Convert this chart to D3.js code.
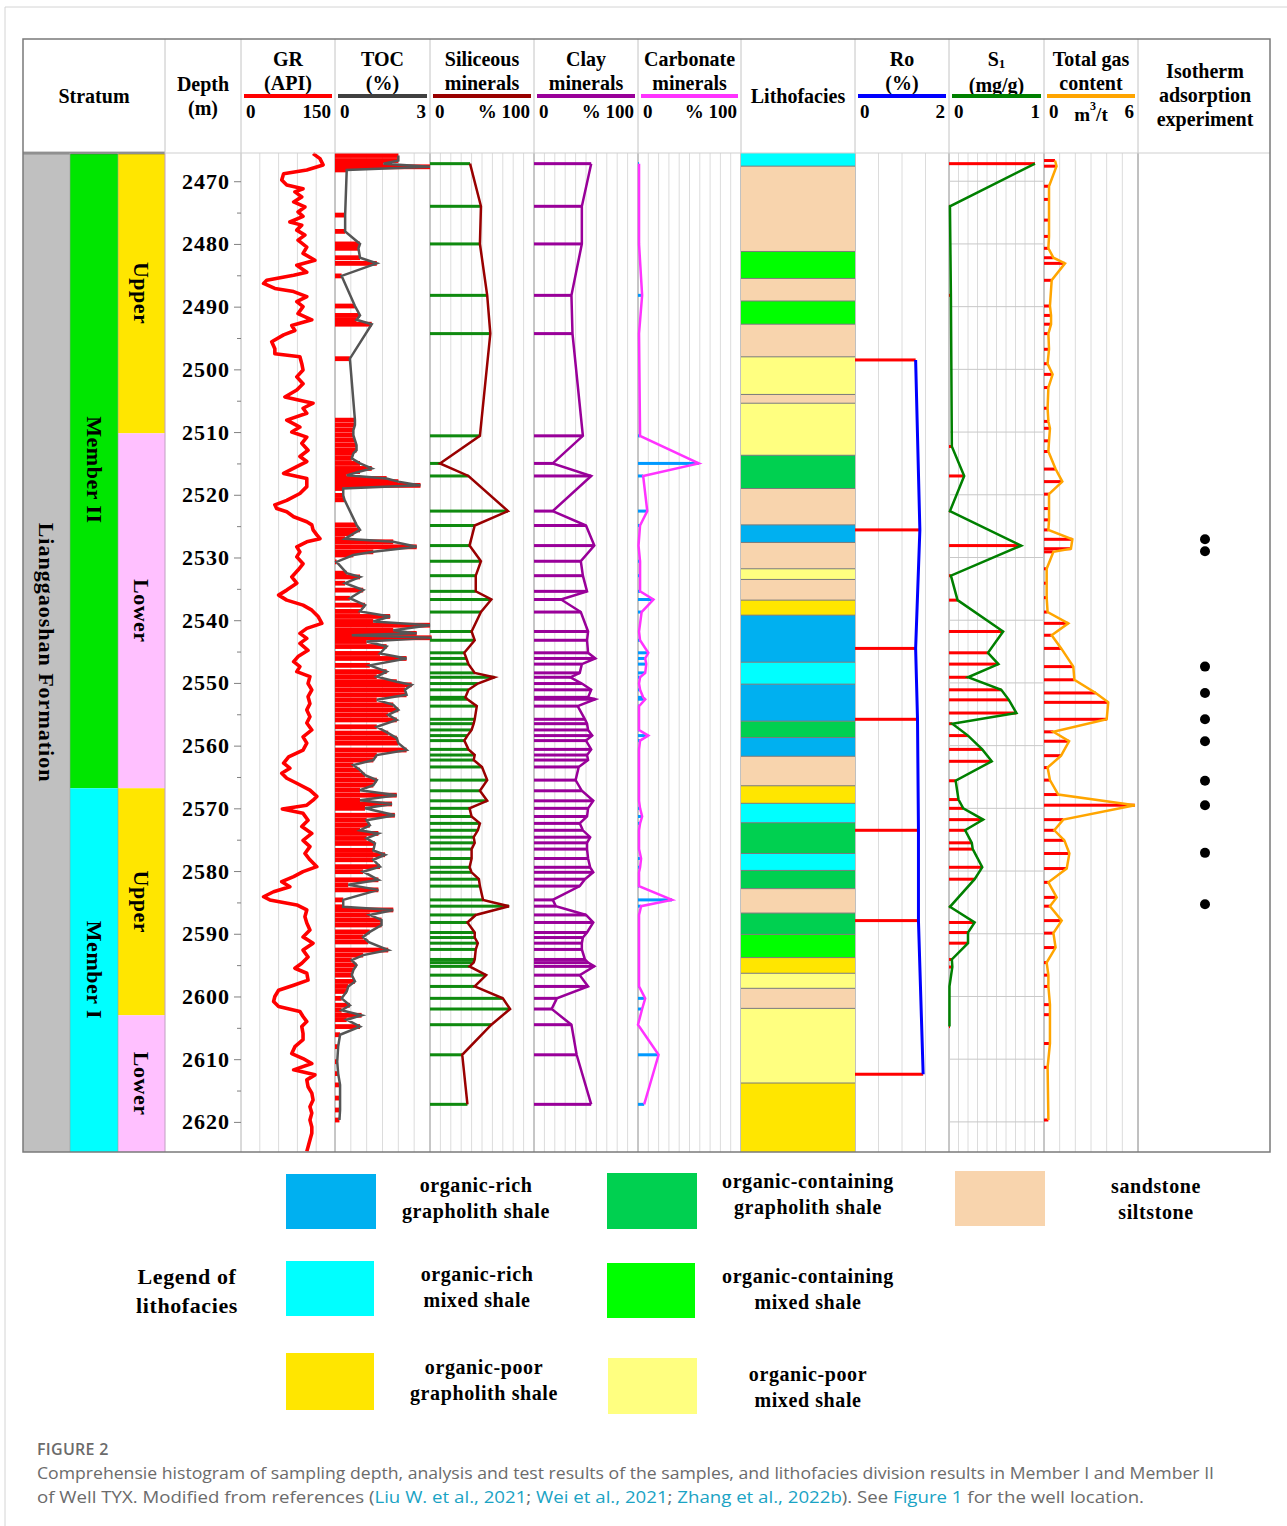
<!DOCTYPE html>
<html><head><meta charset="utf-8">
<script src="https://cdn.jsdelivr.net/npm/d3@7"></script>
<style>
body{margin:0;background:#fff;}
svg text{font-family:"Liberation Serif","Times New Roman",serif;font-weight:bold;fill:#000;}
svg text.cap{font-family:"Open Sans","Noto Sans",sans-serif;font-weight:normal;fill:#6b6b6b;}
</style></head><body>
<svg id="c" width="1287" height="1526"></svg>
<script>
// ---------------- DATA ----------------
const grDepth=[2465.6,2466.4,2467.4,2468.2,2468.8,2469.8,2470.6,2471.2,2471.7,2472.5,2473.3,2474.1,2474.9,2475.6,2476.5,2477.0,2477.8,2478.6,2479.4,2480.5,2481.5,2482.6,2483.4,2484.5,2485.0,2485.8,2486.3,2487.1,2487.6,2488.4,2489.2,2490.0,2491.1,2492.1,2493.0,2493.8,2494.5,2495.6,2496.7,2497.5,2498.0,2499.1,2500.1,2501.2,2502.3,2503.3,2504.4,2505.4,2506.2,2507.0,2508.1,2509.2,2510.0,2510.8,2511.8,2512.9,2513.9,2514.7,2515.5,2516.6,2517.4,2518.7,2519.8,2520.9,2521.6,2522.2,2522.7,2523.5,2524.3,2524.8,2525.6,2526.4,2527.0,2527.5,2528.3,2529.1,2529.9,2531.0,2532.0,2533.1,2534.1,2535.2,2536.0,2536.8,2537.6,2538.4,2539.4,2540.5,2541.3,2542.1,2542.9,2543.7,2544.8,2545.8,2546.6,2547.4,2548.2,2549.0,2550.1,2551.1,2552.2,2553.3,2554.3,2555.4,2556.4,2557.5,2558.6,2559.6,2560.7,2561.8,2562.8,2563.6,2564.4,2565.2,2566.0,2567.1,2568.1,2568.7,2569.5,2570.1,2570.8,2571.9,2572.9,2574.0,2575.1,2576.1,2577.2,2578.2,2579.3,2580.1,2580.9,2581.7,2582.5,2583.3,2584.1,2584.6,2585.4,2586.2,2587.3,2588.3,2589.4,2590.5,2591.5,2592.6,2593.7,2594.7,2595.5,2596.3,2597.4,2598.2,2599.0,2600.0,2600.8,2601.6,2602.4,2603.2,2604.0,2604.8,2605.9,2606.9,2608.0,2609.1,2609.9,2610.7,2611.7,2612.5,2613.3,2614.4,2615.4,2616.5,2617.6,2618.6,2619.7,2620.8,2621.8,2622.9,2624.0,2624.7];
const grValue=[115,126,131,105,68,65,73,99,86,97,84,102,91,99,78,97,89,102,91,105,99,118,89,105,84,41,36,54,84,105,89,99,91,113,81,86,68,49,54,54,94,97,99,89,99,89,70,115,99,105,73,94,81,105,97,107,94,105,89,68,105,105,94,73,54,57,73,84,105,113,115,121,126,105,89,94,89,99,91,81,89,73,60,73,99,113,123,129,105,94,105,94,107,91,84,94,89,110,107,113,107,110,105,110,105,113,99,105,99,76,68,78,65,73,89,110,121,115,105,66,99,107,97,113,99,110,102,110,121,99,84,65,78,52,36,46,89,105,102,105,110,99,115,99,107,97,86,105,107,84,60,54,52,60,94,99,105,97,99,99,86,81,99,113,84,118,105,107,113,115,110,113,110,113,113,110,107,105];

const tocDepth=[2465.9,2466.7,2467.2,2467.7,2468.2,2475.4,2478.0,2480.0,2480.7,2482.2,2483.1,2485.1,2489.9,2491.4,2492.1,2492.8,2498.3,2508.1,2508.9,2509.7,2510.5,2511.3,2512.1,2512.9,2513.4,2514.2,2515.0,2515.8,2516.3,2516.9,2517.4,2517.9,2518.5,2519.0,2520.1,2520.8,2524.8,2525.6,2526.2,2527.0,2527.5,2528.3,2529.1,2529.6,2530.7,2532.5,2533.1,2534.1,2535.2,2536.5,2537.6,2538.6,2539.4,2540.2,2540.8,2541.6,2542.1,2542.4,2542.8,2543.4,2544.2,2545.3,2546.1,2547.2,2548.2,2549.0,2549.8,2550.3,2551.1,2551.9,2552.7,2553.5,2554.3,2555.1,2555.9,2557.0,2558.0,2558.8,2559.6,2560.7,2561.5,2562.3,2563.1,2563.9,2564.7,2565.5,2566.3,2567.1,2567.9,2568.7,2569.3,2570.0,2571.1,2571.9,2572.7,2573.5,2574.0,2574.8,2575.6,2576.7,2577.4,2578.2,2579.3,2580.1,2581.4,2582.2,2583.0,2584.6,2585.7,2586.2,2587.0,2587.8,2588.6,2589.7,2590.5,2591.3,2592.6,2593.4,2594.2,2595.0,2595.8,2596.6,2597.6,2598.4,2599.2,2600.3,2601.4,2602.2,2603.0,2603.7,2604.8,2606.1,2608.0,2610.4,2612.3,2614.1,2616.2,2618.1,2619.7];
const tocValue=[2.0,2.0,1.53,3.0,0.37,0.32,0.32,0.79,0.74,0.79,1.32,0.21,0.63,0.79,0.68,1.16,0.47,0.63,0.63,0.58,0.58,0.63,0.68,0.68,0.58,0.53,0.79,1.16,0.79,0.37,1.63,2.0,2.7,0.26,0.26,0.3,0.68,0.79,0.58,0.32,1.84,2.58,1.21,0.58,0.05,0.37,0.79,0.32,0.89,0.47,0.95,0.79,1.74,1.21,3.0,1.84,2.58,0.53,3.05,1.0,1.63,1.42,2.26,1.1,1.63,1.32,1.95,2.42,2.21,2.26,1.32,1.84,2.0,1.68,1.95,1.32,1.68,1.95,2.0,2.26,1.32,1.21,0.58,0.79,0.95,1.32,1.21,0.79,1.95,0.79,1.8,0.95,1.89,1.0,1.1,0.79,1.37,1.0,1.26,1.21,1.58,1.21,1.42,0.89,1.37,0.42,1.37,0.26,0.26,1.84,1.1,1.47,1.47,1.1,0.89,1.05,1.68,0.89,0.53,0.68,0.58,0.53,0.63,0.42,0.37,0.21,0.47,0.21,0.84,0.37,0.79,0.16,0.1,0.07,0.1,0.16,0.16,0.16,0.14];

const minDepth=[2467.2,2474.0,2480.0,2488.2,2494.3,2510.6,2515.0,2517.0,2522.6,2524.9,2528.1,2530.6,2532.9,2535.4,2536.7,2538.7,2541.8,2543.2,2545.2,2546.1,2547.0,2548.4,2549.1,2550.1,2551.1,2552.3,2552.6,2553.7,2555.8,2556.5,2557.5,2558.4,2559.2,2560.6,2561.5,2562.3,2563.4,2565.5,2567.2,2568.8,2570.0,2571.3,2572.4,2573.5,2574.6,2575.5,2576.5,2578.0,2579.4,2580.2,2581.3,2582.4,2584.6,2585.6,2587.0,2588.2,2589.8,2590.6,2591.5,2592.5,2594.1,2594.6,2595.2,2596.6,2598.4,2600.3,2602.0,2604.5,2609.3,2617.2];
const siliceous=[38.5,49,48,55,58,48,9.6,37,75,43,38,49,44,44,59,49,40,43,33,35,37,43,62,46,37,34,36,45,43,42,40,36,33,37,43,42,50,55,48,55,38,40,48,46,42,43,40,40,38,40,47,48,51,76,44,36,43,43,46,44,43,42,38,54,43,70,77,59,31,36];
const clay=[55,46,46,36,37,47,18,55,18,50,58,45,47,51,26,45,52,51,52,59,46,44,35,46,55,52,59,42,49,51,52,56,50,55,51,52,43,40,46,57,52,51,44,47,54,51,51,52,54,57,49,44,18,21,50,57,51,47,46,46,49,52,58,44,52,22,17,36,41,55];
const carbonate=[1,1,1,4,1,2,59,5,9,2,0.5,2,2,2,15,3.5,1,2,10,7,8,7,2,1,2,5,7,1,1,1,1,10,2,1,1,1,1,1,1,1,2,4,2,1,1,1,1,3,2,1,1,1,33,3,1,1,1,1,1,1,1,1,1,1,1,7,4,0,20,6];

const roDepth=[2498.5,2525.6,2544.5,2555.8,2573.5,2587.9,2612.4];
const roValue=[1.29,1.38,1.29,1.33,1.35,1.35,1.45];

const s1Depth=[2467.2,2474.0,2488.2,2512.3,2517.0,2522.6,2528.1,2532.9,2536.8,2541.8,2545.2,2547.0,2549.1,2551.1,2552.7,2554.8,2556.5,2558.4,2560.6,2562.5,2565.6,2568.6,2570.0,2571.8,2573.5,2575.5,2576.5,2579.4,2581.3,2585.7,2588.2,2589.8,2591.5,2594.1,2595.3,2598.4,2604.8];
const s1Value=[0.905,0.01,0.02,0.03,0.16,0.01,0.76,0.02,0.09,0.57,0.41,0.52,0.20,0.55,0.63,0.71,0.035,0.20,0.35,0.45,0.07,0.10,0.15,0.36,0.17,0.24,0.25,0.35,0.27,0.01,0.27,0.20,0.20,0.03,0.035,0.005,0.005];

const gasDepth=[2466.7,2467.6,2470.8,2472.9,2476.2,2478.8,2480.7,2482.2,2483.1,2485.8,2489.9,2491.4,2492.8,2494.3,2496.8,2499.1,2500.8,2502.9,2506.2,2508.3,2509.4,2511.4,2513.1,2515.9,2517.9,2519.9,2522.2,2524.0,2525.6,2527.1,2528.6,2529.1,2531.8,2534.1,2536.4,2538.7,2540.5,2542.4,2544.5,2547.4,2549.5,2551.6,2553.1,2555.8,2557.8,2559.3,2561.6,2563.5,2565.5,2567.8,2569.5,2571.8,2573.5,2575.1,2577.2,2579.6,2581.8,2584.2,2585.6,2587.9,2589.9,2592.2,2594.6,2596.6,2598.4,2601.3,2602.9,2607.5,2611.3,2619.7];
const gasValue=[0.7,0.8,0.32,0.32,0.32,0.32,0.28,0.6,1.34,0.49,0.38,0.45,0.45,0.28,0.32,0.23,0.55,0.28,0.23,0.28,0.38,0.32,0.28,0.74,1.17,0.32,0.32,0.32,0.28,1.81,1.72,0.6,0.17,0.17,0.17,0.23,1.55,0.49,1.1,1.87,1.94,3.3,4.1,4.0,0.6,1.6,1.09,0.23,0.38,0.91,5.8,1.23,0.66,1.3,1.62,1.45,0.28,0.81,0.38,1.13,0.6,0.74,0.17,0.28,0.28,0.38,0.38,0.38,0.23,0.28];

const isoDepth=[2527.1,2529.0,2547.4,2551.6,2555.8,2559.3,2565.6,2569.5,2577.1,2585.3];

const lithoTop=[2465.5,2467.6,2481.2,2485.5,2489.1,2492.8,2498.0,2504.0,2505.4,2513.7,2519.0,2524.8,2527.6,2531.8,2533.5,2536.8,2539.2,2546.7,2550.2,2556.1,2558.7,2561.7,2566.4,2569.2,2572.3,2577.2,2579.9,2582.8,2586.7,2590.1,2593.8,2596.3,2598.7,2601.9,2613.8];
const lithoBottom=[2467.6,2481.2,2485.5,2489.1,2492.8,2498.0,2504.0,2505.4,2513.7,2519.0,2524.8,2527.6,2531.8,2533.5,2536.8,2539.2,2546.7,2550.2,2556.1,2558.7,2561.7,2566.4,2569.2,2572.3,2577.2,2579.9,2582.8,2586.7,2590.1,2593.8,2596.3,2598.7,2601.9,2613.8,2624.8];
const lithoType=["RM","SS","CM","SS","CM","SS","PM","SS","PM","CG","SS","RG","SS","PM","SS","PG","RG","RM","RG","CG","RG","SS","PG","RM","CG","RM","CG","SS","CG","CM","PG","PM","SS","PM","PG"];

const lithoKeys=["RG","CG","SS","RM","CM","PG","PM"];
const lithoNames=[["organic-rich","grapholith shale"],["organic-containing","grapholith shale"],["sandstone","siltstone"],["organic-rich","mixed shale"],["organic-containing","mixed shale"],["organic-poor","grapholith shale"],["organic-poor","mixed shale"]];
const lithoColors={RG:"#00b0f0",CG:"#00d050",SS:"#f8d4ad",RM:"#00ffff",CM:"#00ff00",PG:"#ffe600",PM:"#ffff80"};

const formationName=["Lianggaoshan Formation"];
const formationTop=[2465.5], formationBottom=[2624.8];
const memberName=["Member II","Member I"];
const memberTop=[2465.5,2566.8], memberBottom=[2566.8,2624.8];
const subName=["Upper","Lower","Upper","Lower"];
const subTop=[2465.5,2510.2,2566.8,2603.0], subBottom=[2510.2,2566.8,2603.0,2624.8];

const depthMajor=d3.range(2470,2621,10);
const depthMinor=d3.range(2475,2621,10);

// ---------------- DRAW ----------------
const svg=d3.select("#c");
const TOP=153,BOT=1152;
const y=d3.scaleLinear().domain([2465.5,2624.8]).range([TOP,BOT]);

// page borders
svg.append("line").attr("x1",5).attr("x2",1287).attr("y1",7).attr("y2",7).attr("stroke","#d4d4d4");
svg.append("line").attr("x1",5).attr("x2",5).attr("y1",7).attr("y2",1526).attr("stroke","#d4d4d4");

const tracks=[
 {key:"GR",x0:241,x1:335,max:150,div:5,color:"#ff0000",t:["GR","(API)"],lo:"0",hi:"150"},
 {key:"TOC",x0:335,x1:430,max:3,div:6,color:"#404040",t:["TOC","(%)"],lo:"0",hi:"3"},
 {key:"SIL",x0:430,x1:534,max:100,div:10,color:"#990000",t:["Siliceous","minerals"],lo:"0",hi:"% 100"},
 {key:"CLAY",x0:534,x1:638,max:100,div:10,color:"#990099",t:["Clay","minerals"],lo:"0",hi:"% 100"},
 {key:"CARB",x0:638,x1:741,max:100,div:10,color:"#ff33ff",t:["Carbonate","minerals"],lo:"0",hi:"% 100"},
 {key:"RO",x0:855,x1:949,max:2,div:4,color:"#0000ff",t:["Ro","(%)"],lo:"0",hi:"2"},
 {key:"S1",x0:949,x1:1044,max:1,div:10,color:"#008000",t:["S1","(mg/g)"],lo:"0",hi:"1"},
 {key:"GAS",x0:1044,x1:1138,max:6,div:6,color:"#ffa500",t:["Total gas","content"],lo:"0",hi:"6"}
];
const X={};
tracks.forEach(t=>{X[t.key]=d3.scaleLinear().domain([0,t.max]).range([t.x0,t.x1]);});

// grids
const grid=svg.append("g");
tracks.forEach(t=>{
  d3.range(0,t.div+1).forEach(i=>{
    const xv=X[t.key](t.max*i/t.div);
    const edge=(i===0||i===t.div);
    grid.append("line").attr("x1",xv).attr("x2",xv).attr("y1",TOP).attr("y2",BOT)
      .attr("stroke",edge?"#b4b4b4":"#dcdcdc").attr("stroke-width",1);
  });
});
depthMajor.forEach(d=>{
  grid.append("line").attr("x1",949).attr("x2",1044).attr("y1",y(d)).attr("y2",y(d)).attr("stroke","#c8c8c8");
});
[741,855,1138].forEach(xv=>grid.append("line").attr("x1",xv).attr("x2",xv).attr("y1",TOP).attr("y2",BOT).attr("stroke","#a8a8a8"));

// stratum columns
const st=svg.append("g");
formationName.forEach((n,i)=>{
  st.append("rect").attr("x",23).attr("width",47).attr("y",y(formationTop[i])).attr("height",y(formationBottom[i])-y(formationTop[i])).attr("fill","#c0c0c0");
  st.append("text").attr("transform",`translate(46,${(y(formationTop[i])+y(formationBottom[i]))/2}) rotate(90)`)
    .attr("text-anchor","middle").attr("dominant-baseline","central").style("font-size","22px").style("letter-spacing","1px").text(n);
});
const memberColors=["#00e600","#00ffff"];
memberName.forEach((n,i)=>{
  st.append("rect").attr("x",70).attr("width",48).attr("y",y(memberTop[i])).attr("height",y(memberBottom[i])-y(memberTop[i])).attr("fill",memberColors[i]);
});
const memberLabelY=[470,970];
memberName.forEach((n,i)=>{
  st.append("text").attr("transform",`translate(94,${memberLabelY[i]}) rotate(90)`)
    .attr("text-anchor","middle").attr("dominant-baseline","central").style("font-size","22px").style("letter-spacing","0.5px").text(n);
});
subName.forEach((n,i)=>{
  st.append("rect").attr("x",118).attr("width",47).attr("y",y(subTop[i])).attr("height",y(subBottom[i])-y(subTop[i]))
    .attr("fill",n==="Upper"?"#ffe600":"#ffc0ff");
  st.append("text").attr("transform",`translate(141,${(y(subTop[i])+y(subBottom[i]))/2}) rotate(90)`)
    .attr("text-anchor","middle").attr("dominant-baseline","central").style("font-size","22px").style("letter-spacing","0.5px").text(n);
});
st.append("line").attr("x1",23).attr("x2",165).attr("y1",TOP).attr("y2",TOP).attr("stroke","#505050").attr("stroke-width",2.5);
[70,118].forEach(xv=>st.append("line").attr("x1",xv).attr("x2",xv).attr("y1",TOP).attr("y2",BOT).attr("stroke","#9a9a9a").attr("stroke-width",0.6));
st.append("line").attr("x1",165).attr("x2",165).attr("y1",TOP).attr("y2",BOT).attr("stroke","#c0a0c0").attr("stroke-width",1);

// depth axis
const axMaj=svg.append("g").attr("transform","translate(241,0)")
  .call(d3.axisLeft(y).tickValues(depthMajor).tickSize(7).tickPadding(4).tickFormat(d3.format("d")));
const axMin=svg.append("g").attr("transform","translate(241,0)")
  .call(d3.axisLeft(y).tickValues(depthMinor).tickSize(4).tickFormat(""));
[axMaj,axMin].forEach(a=>{a.select(".domain").remove();a.selectAll("line").attr("stroke","#808080");});
axMaj.selectAll("text").style("font-size","22px").style("letter-spacing","1px").attr("font-family",null).attr("fill","#000");

// GR curve
const pts=(ds,vs)=>ds.map((d,i)=>[d,vs[i]]);
svg.append("path").datum(pts(grDepth,grValue))
  .attr("d",d3.line().x(p=>X.GR(p[1])).y(p=>y(p[0])))
  .attr("fill","none").attr("stroke","#ff0000").attr("stroke-width",3.6).attr("stroke-linejoin","round");

// bar helper
function bars(key,ds,vs,color,h){
  svg.append("g").selectAll("rect").data(pts(ds,vs)).join("rect")
    .attr("x",X[key](0)).attr("width",p=>Math.max(1,X[key](p[1])-X[key](0)))
    .attr("y",p=>y(p[0])-h/2).attr("height",h).attr("fill",color);
}
function curve(key,ds,vs,color,w){
  svg.append("path").datum(pts(ds,vs))
    .attr("d",d3.line().x(p=>X[key](p[1])).y(p=>y(p[0])))
    .attr("fill","none").attr("stroke",color).attr("stroke-width",w).attr("stroke-linejoin","miter");
}
bars("TOC",tocDepth,tocValue,"#ff0000",4.8);
curve("TOC",tocDepth,tocValue,"#555555",2.5);
bars("SIL",minDepth,siliceous,"#0f8a0f",3);
curve("SIL",minDepth,siliceous,"#990000",2.5);
bars("CLAY",minDepth,clay,"#990099",3);
curve("CLAY",minDepth,clay,"#990099",2.5);
bars("CARB",minDepth,carbonate,"#0099ff",3);
curve("CARB",minDepth,carbonate,"#ff33ff",2.5);

// lithofacies
const lg=svg.append("g");
lithoType.forEach((t,i)=>{
  lg.append("rect").attr("x",741).attr("width",114).attr("y",y(lithoTop[i])).attr("height",y(lithoBottom[i])-y(lithoTop[i]))
    .attr("fill",lithoColors[t]);
});
lithoTop.slice(1).forEach(d=>lg.append("line").attr("x1",741).attr("x2",855).attr("y1",y(d)).attr("y2",y(d)).attr("stroke","#7a7a7a").attr("stroke-width",1));

// Ro, S1, gas
bars("RO",roDepth,roValue,"#ff0000",3);
curve("RO",roDepth,roValue,"#0000ff",3);
bars("S1",s1Depth,s1Value,"#ff0000",3);
curve("S1",s1Depth,s1Value,"#008000",2.5);
bars("GAS",gasDepth,gasValue,"#ff0000",3);
curve("GAS",gasDepth,gasValue,"#ffa500",2.5);

// isotherm dots
svg.append("g").selectAll("circle").data(isoDepth).join("circle")
  .attr("cx",1205).attr("cy",d=>y(d)).attr("r",5).attr("fill","#000");

// header
const hd=svg.append("g");
[165,241,335,430,534,638,741,855,949,1044,1138].forEach(xv=>
  hd.append("line").attr("x1",xv).attr("x2",xv).attr("y1",39).attr("y2",TOP).attr("stroke","#c4c4c4"));
hd.append("line").attr("x1",23).attr("x2",1270).attr("y1",TOP).attr("y2",TOP).attr("stroke","#cfcfcf");
function htext(x,yy,s,fs){return hd.append("text").attr("x",x).attr("y",yy).attr("text-anchor","middle").attr("dominant-baseline","central").style("font-size",(fs||20)+"px").text(s);}
htext(94,96,"Stratum");
htext(203,84,"Depth");htext(203,108,"(m)");
htext(798,96,"Lithofacies");
htext(1205,71,"Isotherm");htext(1205,95,"adsorption");htext(1205,119,"experiment");
tracks.forEach(t=>{
  const cx=(t.x0+t.x1)/2;
  if(t.key==="S1"){
    const tx=hd.append("text").attr("x",cx).attr("y",59).attr("text-anchor","middle").attr("dominant-baseline","central").style("font-size","20px");
    tx.append("tspan").text("S");
    tx.append("tspan").attr("dy",4).style("font-size","13px").text("1");
    htext(cx,85,t.t[1]);
  } else {
    htext(cx,59,t.t[0]);
    htext(cx,83,t.t[1]);
  }
  hd.append("rect").attr("x",t.x0+3).attr("width",t.x1-t.x0-6).attr("y",94).attr("height",4).attr("fill",t.color);
  hd.append("text").attr("x",t.x0+5).attr("y",111).attr("dominant-baseline","central").style("font-size","19px").text(t.lo);
  hd.append("text").attr("x",t.x1-4).attr("y",111).attr("text-anchor","end").attr("dominant-baseline","central").style("font-size","19px").text(t.hi);
  if(t.key==="GAS"){
    const m=hd.append("text").attr("x",cx).attr("y",114).attr("text-anchor","middle").attr("dominant-baseline","central").style("font-size","19px");
    m.append("tspan").text("m");
    m.append("tspan").attr("dy",-8).style("font-size","12px").text("3");
    m.append("tspan").attr("dy",8).text("/t");
  }
});

// outer frame
svg.append("rect").attr("x",23).attr("y",39).attr("width",1247).attr("height",BOT-39).attr("fill","none").attr("stroke","#7a7a7a").attr("stroke-width",1.5);

// legend
const legPos=[[286,1174,90,55,476,1185],[607,1173,90,56,808,1181],[955,1171,90,55,1156,1186],[286,1261,88,55,477,1274],[607,1263,88,55,808,1276],[286,1353,88,57,484,1367],[608,1358,89,56,808,1374]];
const leg=svg.append("g");
lithoKeys.forEach((k,i)=>{
  const p=legPos[i];
  leg.append("rect").attr("x",p[0]).attr("y",p[1]).attr("width",p[2]).attr("height",p[3]).attr("fill",lithoColors[k]);
  lithoNames[i].forEach((s,j)=>leg.append("text").attr("x",p[4]).attr("y",p[5]+j*26).attr("text-anchor","middle")
    .attr("dominant-baseline","central").style("font-size","20px").style("letter-spacing","0.6px").text(s));
});
leg.append("text").attr("x",187).attr("y",1276).attr("text-anchor","middle").attr("dominant-baseline","central").style("font-size","22px").style("letter-spacing","0.6px").text("Legend of");
leg.append("text").attr("x",187).attr("y",1305).attr("text-anchor","middle").attr("dominant-baseline","central").style("font-size","22px").style("letter-spacing","0.6px").text("lithofacies");

// caption
const cap=svg.append("g");
cap.append("text").attr("class","cap").attr("x",37).attr("y",1455).style("font-size","16px").style("font-weight","600").style("letter-spacing","0.3px").text("FIGURE 2");
const l1=cap.append("text").attr("class","cap").attr("x",37).attr("y",1479).style("font-size","17px")
  .text("Comprehensie histogram of sampling depth, analysis and test results of the samples, and lithofacies division results in Member I and Member II");
const l2=cap.append("text").attr("class","cap").attr("x",37).attr("y",1503).style("font-size","17px");
const link="#1aa3c4";
[["of Well TYX. Modified from references (",null],["Liu W. et al., 2021",link],["; ",null],["Wei et al., 2021",link],["; ",null],["Zhang et al., 2022b",link],["). See ",null],["Figure 1",link],[" for the well location.",null]]
  .forEach(s=>{const ts=l2.append("tspan").text(s[0]); if(s[1]) ts.style("fill",s[1]);});
l1.attr("textLength",1177).attr("lengthAdjust","spacingAndGlyphs");
l2.attr("textLength",1107).attr("lengthAdjust","spacingAndGlyphs");
</script>
</body></html>
